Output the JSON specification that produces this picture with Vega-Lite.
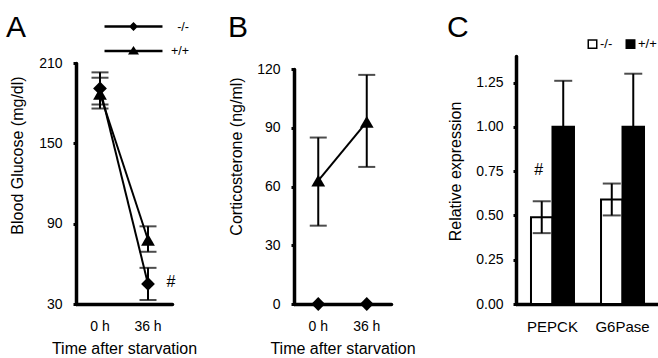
{
  "$schema": "https://vega.github.io/schema/vega-lite/v6.json",
  "background": "white",
  "padding": {"left": 5, "top": 12, "right": 0, "bottom": 0},
  "spacing": 30,
  "datasets": {
    "glucose": [
      {"time": "0 h", "genotype": "-/-", "mean": 191, "lo": 179, "hi": 203},
      {"time": "36 h", "genotype": "-/-", "mean": 45, "lo": 33, "hi": 57},
      {"time": "0 h", "genotype": "+/+", "mean": 187, "lo": 176, "hi": 199},
      {"time": "36 h", "genotype": "+/+", "mean": 78, "lo": 69, "hi": 88}
    ],
    "cort": [
      {"time": "0 h", "genotype": "-/-", "mean": 0, "lo": null, "hi": null},
      {"time": "36 h", "genotype": "-/-", "mean": 0, "lo": null, "hi": null},
      {"time": "0 h", "genotype": "+/+", "mean": 63, "lo": 40, "hi": 85},
      {"time": "36 h", "genotype": "+/+", "mean": 93, "lo": 70, "hi": 117}
    ],
    "expr": [
      {"gene": "PEPCK", "genotype": "-/-", "mean": 0.49, "lo": 0.40, "hi": 0.58},
      {"gene": "PEPCK", "genotype": "+/+", "mean": 1.0, "lo": 0.74, "hi": 1.26},
      {"gene": "G6Pase", "genotype": "-/-", "mean": 0.59, "lo": 0.50, "hi": 0.68},
      {"gene": "G6Pase", "genotype": "+/+", "mean": 1.0, "lo": 0.70, "hi": 1.30}
    ]
  },
  "config": {
    "font": "Liberation Sans",
    "view": {"stroke": null},
    "axis": {
      "domainColor": "black", "domainWidth": 3.5, "domainCap": "round",
      "tickColor": "black", "tickWidth": 3, "tickSize": 3,
      "labelColor": "black", "titleColor": "black", "titleFontWeight": "normal",
      "labelFontSize": 14, "titleFontSize": 16, "grid": false, "labelPadding": 11
    },
    "axisX": {"labelAngle": 0, "ticks": false, "labelPadding": 15, "titlePadding": 7},
    "title": {"fontSize": 30, "fontWeight": "normal", "anchor": "start", "color": "black", "frame": "bounds"},
    "legend": {"labelColor": "black", "titleColor": "black"}
  },
  "resolve": {"scale": {"shape": "independent", "fill": "independent"}, "legend": {"shape": "independent", "fill": "independent"}},
  "hconcat": [
    {
      "width": 96, "height": 248,
      "title": {"text": "A", "offset": -24, "dx": -3},
      "data": {"name": "glucose"},
      "resolve": {"scale": {"shape": "independent"}, "legend": {"shape": "independent"}},
      "encoding": {
        "x": {"field": "time", "type": "nominal", "title": "Time after starvation", "sort": ["0 h", "36 h"],
              "scale": {"type": "band", "paddingInner": 0, "paddingOuter": 0}}
      },
      "layer": [
        {"mark": {"type": "line", "color": "black", "strokeWidth": 2},
         "encoding": {
           "y": {"field": "mean", "type": "quantitative", "title": "Blood Glucose (mg/dl)",
                 "scale": {"domain": [30, 210], "nice": false, "range": [248, 7]},
                 "axis": {"values": [30, 90, 150, 210], "titleX": -51, "titleY": 99}},
           "detail": {"field": "genotype"}}},
        {"mark": {"type": "rule", "color": "black", "strokeWidth": 2},
         "encoding": {"y": {"field": "lo", "type": "quantitative", "title": "Blood Glucose (mg/dl)"}, "y2": {"field": "hi"}}},
        {"mark": {"type": "tick", "color": "black", "thickness": 2, "size": 17},
         "encoding": {"y": {"field": "hi", "type": "quantitative", "title": "Blood Glucose (mg/dl)"}}},
        {"mark": {"type": "tick", "color": "black", "thickness": 2, "size": 17},
         "encoding": {"y": {"field": "lo", "type": "quantitative", "title": "Blood Glucose (mg/dl)"}}},
        {"mark": {"type": "point", "filled": true, "color": "black", "opacity": 1, "size": 190},
         "encoding": {
           "y": {"field": "mean", "type": "quantitative", "title": "Blood Glucose (mg/dl)"},
           "shape": {"field": "genotype", "type": "nominal",
                     "scale": {"domain": ["-/-", "+/+"], "range": ["diamond", "triangle-up"]}, "legend": null}}},
        {"transform": [{"filter": "false"}],
         "mark": {"type": "point", "filled": true, "color": "black", "opacity": 1},
         "encoding": {
           "y": {"field": "mean", "type": "quantitative", "title": "Blood Glucose (mg/dl)"},
           "shape": {"field": "genotype", "type": "nominal",
                     "scale": {"domain": ["-/-", "+/+"],
                               "range": ["M-4,-0.165L-0.455,-0.165L0,-0.62L0.455,-0.165L4,-0.165L4,0.165L0.455,0.165L0,0.62L-0.455,0.165L-4,0.165Z",
                                         "M-4,-0.165L-0.341,-0.165L0,-0.69L0.341,-0.165L4,-0.165L4,0.165L0.555,0.165L0.76,0.48L-0.76,0.48L-0.555,0.165L-4,0.165Z"]},
                     "legend": {"orient": "none", "legendX": 50, "legendY": -37, "title": null,
                                "symbolSize": 210, "labelFontSize": 12.5, "labelOffset": 48, "labelAlign": "right",
                                "rowPadding": 10.5, "symbolStrokeWidth": 0, "symbolOpacity": 1, "symbolFillColor": "black"}}}},
        {"transform": [{"filter": "datum.time === '36 h' && datum.genotype === '-/-'"}],
         "mark": {"type": "text", "text": "#", "dx": 23, "dy": -2, "fontSize": 16, "color": "black"},
         "encoding": {"y": {"field": "mean", "type": "quantitative", "title": "Blood Glucose (mg/dl)"}}}
      ]
    },
    {
      "width": 97, "height": 248,
      "title": {"text": "B", "offset": 13, "dx": 0},
      "data": {"name": "cort"},
      "encoding": {
        "x": {"field": "time", "type": "nominal", "title": "Time after starvation", "sort": ["0 h", "36 h"],
              "scale": {"type": "band", "paddingInner": 0, "paddingOuter": 0}}
      },
      "layer": [
        {"mark": {"type": "line", "color": "black", "strokeWidth": 2},
         "encoding": {
           "y": {"field": "mean", "type": "quantitative", "title": "Corticosterone (ng/ml)",
                 "scale": {"domain": [0, 120], "nice": false, "range": [248, 13]},
                 "axis": {"values": [0, 30, 60, 90, 120], "titleX": -50, "titleY": 100}},
           "detail": {"field": "genotype"}}},
        {"mark": {"type": "rule", "color": "black", "strokeWidth": 2},
         "encoding": {"y": {"field": "lo", "type": "quantitative", "title": "Corticosterone (ng/ml)"}, "y2": {"field": "hi"}}},
        {"mark": {"type": "tick", "color": "black", "thickness": 2, "size": 17},
         "encoding": {"y": {"field": "hi", "type": "quantitative", "title": "Corticosterone (ng/ml)"}}},
        {"mark": {"type": "tick", "color": "black", "thickness": 2, "size": 17},
         "encoding": {"y": {"field": "lo", "type": "quantitative", "title": "Corticosterone (ng/ml)"}}},
        {"mark": {"type": "point", "filled": true, "color": "black", "opacity": 1, "size": 190},
         "encoding": {
           "y": {"field": "mean", "type": "quantitative", "title": "Corticosterone (ng/ml)"},
           "shape": {"field": "genotype", "type": "nominal",
                     "scale": {"domain": ["-/-", "+/+"], "range": ["diamond", "triangle-up"]}, "legend": null}}}
      ]
    },
    {
      "width": 143, "height": 248,
      "title": {"text": "C", "offset": -5, "dx": 0},
      "data": {"name": "expr"},
      "encoding": {
        "x": {"field": "gene", "type": "nominal", "title": null, "sort": ["PEPCK", "G6Pase"],
              "scale": {"paddingInner": 0.386, "paddingOuter": 0.214}, "axis": {"labelFontSize": 15}},
        "xOffset": {"field": "genotype", "type": "nominal", "sort": ["-/-", "+/+"],
                    "scale": {"paddingInner": 0, "paddingOuter": 0}}
      },
      "layer": [
        {"mark": {"type": "bar", "stroke": "black", "strokeWidth": 2},
         "encoding": {
           "y": {"field": "mean", "type": "quantitative", "title": "Relative expression",
                 "scale": {"domain": [0, 1.4], "nice": false},
                 "axis": {"values": [0, 0.25, 0.5, 0.75, 1, 1.25], "format": ".2f", "titleX": -53, "titleY": 115, "labelPadding": 10}},
           "fill": {"field": "genotype", "type": "nominal",
                    "scale": {"domain": ["-/-", "+/+"], "range": ["white", "black"]},
                    "legend": {"orient": "none", "legendX": 70, "legendY": -18.5, "direction": "horizontal", "title": null,
                               "symbolType": "square", "symbolSize": 72, "symbolStrokeColor": "black", "symbolStrokeWidth": 1.5,
                               "labelFontSize": 13, "labelOffset": 1, "columnPadding": 10}}}},
        {"mark": {"type": "rule", "color": "black", "strokeWidth": 2},
         "encoding": {"y": {"field": "lo", "type": "quantitative", "title": "Relative expression"}, "y2": {"field": "hi"}}},
        {"mark": {"type": "tick", "color": "black", "thickness": 2, "size": 18},
         "encoding": {"y": {"field": "hi", "type": "quantitative", "title": "Relative expression"}}},
        {"mark": {"type": "tick", "color": "black", "thickness": 2, "size": 18},
         "encoding": {"y": {"field": "lo", "type": "quantitative", "title": "Relative expression"}}},
        {"transform": [{"filter": "datum.gene === 'PEPCK' && datum.genotype === '-/-'"}],
         "mark": {"type": "text", "text": "#", "dx": -3, "fontSize": 16, "color": "black"},
         "encoding": {"y": {"datum": 0.757, "type": "quantitative", "title": "Relative expression"}}}
      ]
    }
  ]
}
